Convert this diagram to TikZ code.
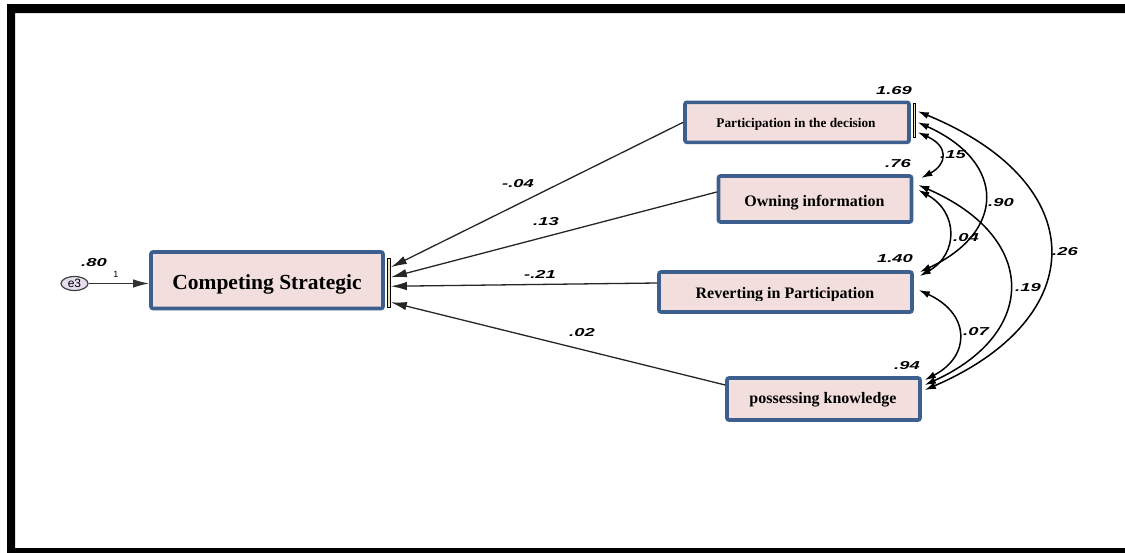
\documentclass[tikz,border=0pt]{standalone}
\usepackage{fontspec}
\setmainfont{Liberation Serif}
\newfontfamily\estfont{Liberation Sans}
\usetikzlibrary{arrows.meta,calc,shapes.geometric}
\definecolor{boxblue}{HTML}{3D5F8E}
\definecolor{boxfill}{HTML}{F2DEDD}
\definecolor{barfill}{HTML}{EFE6B8}
\definecolor{errfill}{HTML}{E4DEEE}
% estimates are printed in a wide bold italic sans
\newcommand\wide[1]{\scalebox{1.6}[1]{#1}}

\begin{document}
\begin{tikzpicture}[x=1pt,y=-1pt,
  obs/.style={draw=boxblue, line width=3.6pt, fill=boxfill, rounded corners=2pt, inner sep=0pt},
  boxtext/.style={anchor=base, inner sep=0pt},
  est/.style={inner sep=0pt, font=\estfont\bfseries\itshape\fontsize{11.5}{12}\selectfont},
  reg/.style={line width=1.3pt, draw=black!85, -{Latex[length=16pt,width=8.5pt]}},
  cov/.style={line width=1.5pt, {Latex[length=11pt,width=7pt]}-{Latex[length=11pt,width=7pt]}},
  bar/.style={draw=black, line width=0.6pt, fill=barfill},
  err/.style={ellipse, draw=black!75, fill=errfill, line width=1.2pt, inner sep=0pt,
    minimum width=27pt, minimum height=14pt, font=\estfont\fontsize{12}{13}\selectfont}
]
\useasboundingbox (0,0) rectangle (1125,552);
\fill[white] (0,0) rectangle (1125,552);
% frame
\fill[black, even odd rule] (7,4) rectangle (1135,556) (15,13) rectangle (1135,548);

% observed variables
\node[obs, minimum width=232pt, minimum height=56.5pt] (C) at (267,280.25) {};
\node[obs, minimum width=224pt, minimum height=40pt] (P) at (797,122.3) {};
\node[obs, minimum width=193pt, minimum height=46pt] (O) at (815,199) {};
\node[obs, minimum width=253pt, minimum height=40pt] (R) at (785.5,292) {};
\node[obs, minimum width=193pt, minimum height=42pt] (K) at (823.5,399) {};

% side bars
\draw[bar] ($(C.east)+(2,-22)$) rectangle ($(C.east)+(5.5,27)$);
\draw[bar] ($(P.east)+(2,-19)$) rectangle ($(P.east)+(4.5,15)$);

% error term
\node[err] (E3) at (74.5,283.5) {e3};
\draw[reg, draw=black!80] (E3.east) -- (E3.east -| C.west);

% regression paths
\draw[reg] (P.west) -- ($(C.east)+(6,-13)$);
\draw[reg] ($(O.west)+(0,-7)$) -- ($(C.east)+(6,-3)$);
\draw[reg] ($(R.west)+(0,-9)$) -- ($(C.east)+(6,6)$);
\draw[reg] ($(K.west)+(0,-14)$) -- ($(C.east)+(6,22)$);

% covariances
\draw[cov] ($(P.east)+(7,10)$) .. controls +(31,14) and +(26,-14) .. ($(O.east)+(8,-21)$);
\draw[cov] ($(P.east)+(7,0)$) .. controls +(89,40) and +(86,-40) .. ($(R.east)+(6,-20)$);
\draw[cov] ($(P.east)+(7,-11)$) .. controls +(175,72) and +(167,-72) .. ($(K.east)+(3,-9)$);
\draw[cov] ($(O.east)+(5,-9)$) .. controls +(40,22) and +(39,-22) .. ($(R.east)+(6,-16)$);
\draw[cov] ($(O.east)+(5,-14)$) .. controls +(120,52) and +(114,-52) .. ($(K.east)+(3,-14)$);
\draw[cov] ($(R.east)+(5,-2)$) .. controls +(52,24) and +(46,-24) .. ($(K.east)+(3,-19)$);

% box texts
\node[boxtext, font=\bfseries\fontsize{21.5}{24}\selectfont] (Ct) at (267,289) {Competing Strategic};
\node[boxtext, font=\bfseries\fontsize{13.3}{15}\selectfont] (Pt) at (796,127) {Participation in the decision};
\node[boxtext, font=\bfseries\fontsize{16}{18}\selectfont] (Ot) at (814.5,206) {Owning information};
\begin{scope}
  \clip ($(R.north west)+(2,2)$) rectangle ($(R.east)+(-2,8)$);
  \node[boxtext, font=\bfseries\fontsize{16}{18}\selectfont] (Rt) at (785,298.5) {Reverting in Participation};
\end{scope}
\node[boxtext, font=\bfseries\fontsize{16}{18}\selectfont] (Kt) at (823,403.3) {possessing knowledge};

% estimates
\node[est] (v80) at (94,263) {\wide{.80}};
\node[inner sep=0pt, font=\estfont\fontsize{9}{10}\selectfont] (one) at (116,274.5) {1};
\node[est] (v169) at (894,91) {\wide{1.69}};
\node[est] (v76) at (898,164) {\wide{.76}};
\node[est] (v140) at (895,259) {\wide{1.40}};
\node[est] (v94) at (907,366) {\wide{.94}};
\node[est] (c15) at (953,155) {\wide{.15}};
\node[est] (c90) at (1001,203) {\wide{.90}};
\node[est] (c04) at (966,238) {\wide{.04}};
\node[est] (c26) at (1065,252) {\wide{.26}};
\node[est] (c19) at (1028,288) {\wide{.19}};
\node[est] (c07) at (976,332) {\wide{.07}};
\node[est] (r1) at (518,184) {\wide{-.04}};
\node[est] (r2) at (546,222) {\wide{.13}};
\node[est] (r3) at (540,274) {\wide{-.21}};
\node[est] (r4) at (582,333) {\wide{.02}};
\end{tikzpicture}
\end{document}
